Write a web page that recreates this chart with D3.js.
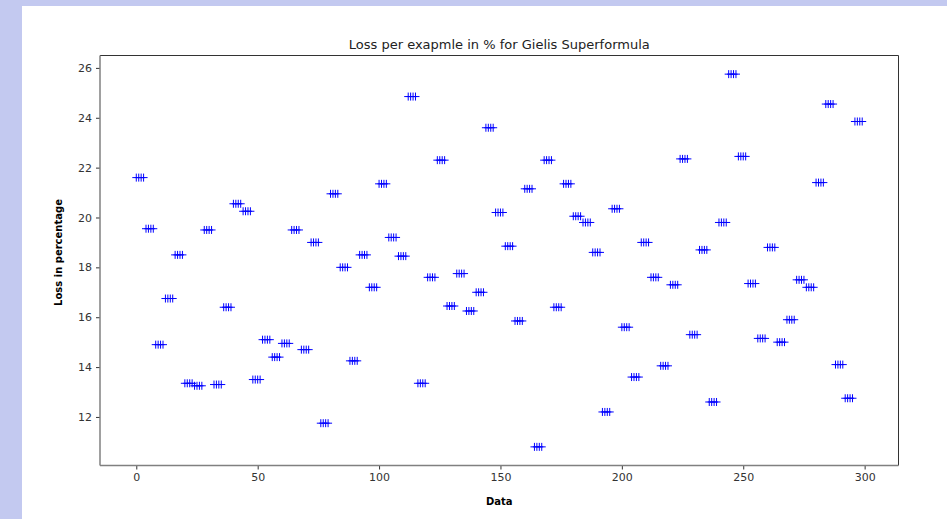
<!DOCTYPE html>
<html>
<head>
<meta charset="utf-8">
<script src="https://cdn.jsdelivr.net/npm/d3@7"></script>
<style>
  html, body { margin: 0; padding: 0; background: #c3c9f0; }
  svg { display: block; }
  text { font-family: "DejaVu Sans", sans-serif; }
</style>
</head>
<body>
<svg id="chart" width="947" height="519"></svg>
<script>
// Loss per example: every 4 consecutive samples share one loss value
const groupSize = 4;
const groupLoss = [
  21.6, 19.55, 14.9, 16.75, 18.5, 13.35, 13.25, 19.5, 13.3, 16.4,
  20.55, 20.25, 13.5, 15.1, 14.4, 14.95, 19.5, 14.7, 19.0, 11.75,
  20.95, 18.0, 14.25, 18.5, 17.2, 21.35, 19.2, 18.45, 24.85, 13.35,
  17.6, 22.3, 16.45, 17.75, 16.25, 17.0, 23.6, 20.2, 18.85, 15.85,
  21.15, 10.8, 22.3, 16.4, 21.35, 20.05, 19.8, 18.6, 12.2, 20.35,
  15.6, 13.6, 19.0, 17.6, 14.05, 17.3, 22.35, 15.3, 18.7, 12.6,
  19.8, 25.75, 22.45, 17.35, 15.15, 18.8, 15.0, 15.9, 17.5, 17.2,
  21.4, 24.55, 14.1, 12.75, 23.85
];
const xTicks = [0, 50, 100, 150, 200, 250, 300];
const yTicks = [12, 14, 16, 18, 20, 22, 24, 26];

const points = [];
groupLoss.forEach((v, g) => {
  for (let k = 0; k < groupSize; k++) points.push({ x: g * groupSize + k, y: v });
});

const svg = d3.select("#chart");
const W = 947, H = 519;

// page panel
svg.append("rect").attr("width", W).attr("height", H).attr("fill", "#c3c9f0");
svg.append("rect").attr("x", 22).attr("y", 6).attr("width", W - 22).attr("height", H - 6).attr("fill", "#ffffff");

const plot = { left: 100, right: 898.5, top: 55.5, bottom: 465.5 };

// 5% padding around the data range
const xMin = d3.min(points, d => d.x), xMax = d3.max(points, d => d.x);
const yMin = d3.min(points, d => d.y), yMax = d3.max(points, d => d.y);
const xPad = (xMax - xMin) * 0.05, yPad = (yMax - yMin) * 0.05;

const x = d3.scaleLinear().domain([xMin - xPad, xMax + xPad]).range([plot.left, plot.right]);
const y = d3.scaleLinear().domain([yMin - yPad, yMax + yPad]).range([plot.bottom, plot.top]);

// markers
svg.append("g")
  .selectAll("path")
  .data(points)
  .join("path")
  .attr("transform", d => `translate(${x(d.x)},${y(d.y)})`)
  .attr("d", "M-4,0H4M0,-4V4")
  .attr("stroke", "#0000ff")
  .attr("stroke-width", 1)
  .attr("fill", "none");

// axes
const xAxis = svg.append("g")
  .attr("transform", `translate(0,${plot.bottom})`)
  .call(d3.axisBottom(x).tickValues(xTicks).tickSize(4).tickPadding(4).tickSizeOuter(0));
const yAxis = svg.append("g")
  .attr("transform", `translate(${plot.left},0)`)
  .call(d3.axisLeft(y).tickValues(yTicks).tickSize(4).tickPadding(4).tickSizeOuter(0));

[xAxis, yAxis].forEach(a => {
  a.select(".domain").remove();
  a.selectAll(".tick line").attr("stroke", "#333");
  a.selectAll(".tick text").attr("fill", "#333").style("font-size", "11px")
    .style("font-family", "'DejaVu Sans', sans-serif");
});

// frame
svg.append("line").attr("x1", plot.left).attr("x2", plot.right).attr("y1", plot.top).attr("y2", plot.top)
  .attr("stroke", "#333").attr("stroke-width", 1);
svg.append("line").attr("x1", plot.right).attr("x2", plot.right).attr("y1", plot.top).attr("y2", plot.bottom)
  .attr("stroke", "#333").attr("stroke-width", 1);
svg.append("line").attr("x1", plot.left).attr("x2", plot.left).attr("y1", plot.top).attr("y2", plot.bottom)
  .attr("stroke", "#808080").attr("stroke-width", 1.5);
svg.append("line").attr("x1", plot.left).attr("x2", plot.right).attr("y1", plot.bottom).attr("y2", plot.bottom)
  .attr("stroke", "#808080").attr("stroke-width", 1.5);

// title and axis labels
svg.append("text")
  .attr("x", (plot.left + plot.right) / 2).attr("y", 49)
  .attr("text-anchor", "middle").attr("fill", "#222")
  .style("font-size", "13px")
  .text("Loss per exapmle in % for Gielis Superformula");

svg.append("text")
  .attr("x", (plot.left + plot.right) / 2).attr("y", 505)
  .attr("text-anchor", "middle").attr("fill", "#000")
  .style("font-size", "10px").style("font-weight", "bold")
  .text("Data");

svg.append("text")
  .attr("transform", `translate(62,${(plot.top + plot.bottom) / 2 - 8}) rotate(-90)`)
  .attr("text-anchor", "middle").attr("fill", "#000")
  .style("font-size", "10px").style("font-weight", "bold")
  .text("Loss in percentage");
</script>
</body>
</html>
